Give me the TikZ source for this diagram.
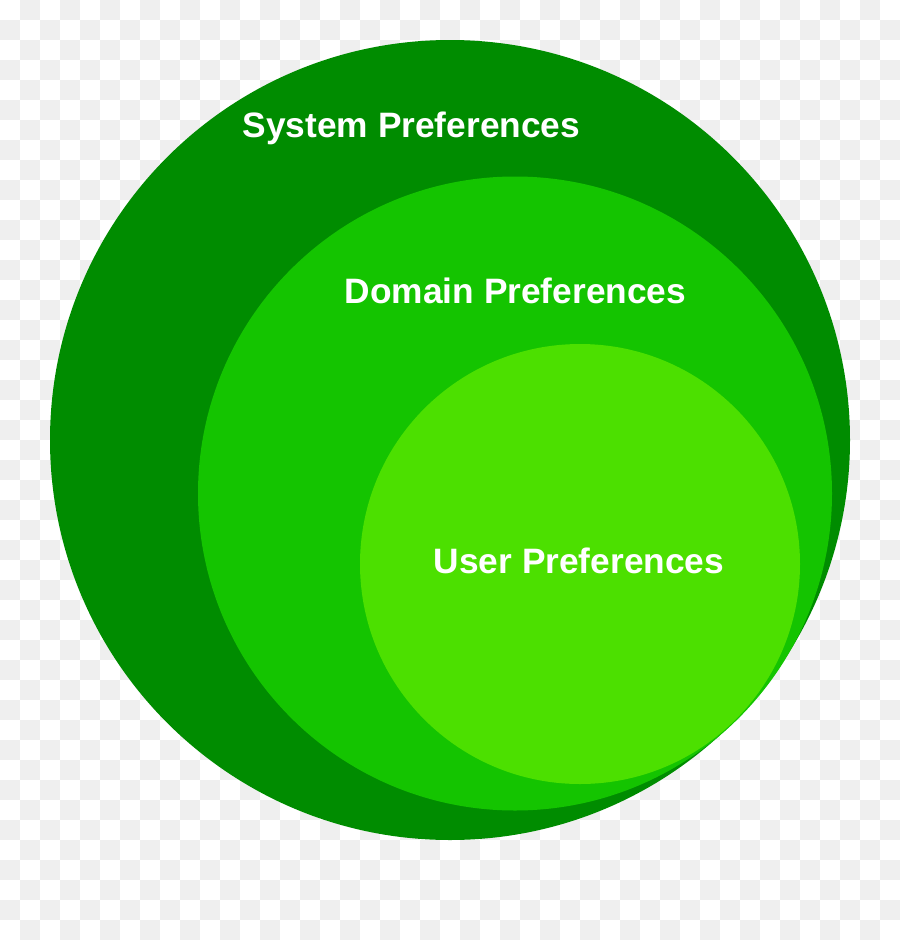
\documentclass[tikz,border=0pt]{standalone}
\usepackage{fontspec}
\setmainfont{Liberation Sans}
\definecolor{outerg}{RGB}{0,140,0}
\definecolor{midg}{RGB}{20,196,0}
\definecolor{innerg}{RGB}{76,224,0}
\definecolor{checker}{RGB}{239,239,239}
\begin{document}
\begin{tikzpicture}[x=1pt,y=-1pt,
  lbl/.style={text=white,font=\bfseries\fontsize{35.3}{42}\selectfont,anchor=base,inner sep=0pt},
  ring/.style={circle,inner sep=0pt,draw=none}]
\useasboundingbox (0,0) rectangle (900,940);
\fill[white] (0,0) rectangle (900,940);
\foreach \i in {0,...,44}{
  \foreach \j in {0,...,46}{
    \pgfmathtruncatemacro{\myparity}{mod(\i+\j,2)}
    \ifnum\myparity=1 \fill[checker] (\i*20,\j*20) rectangle ++(20,20);\fi
  }
}
\node[ring,fill=outerg,minimum size=800pt] (sys) at (450,440) {};
\node[ring,fill=midg,minimum size=634pt] (dom) at (515,493.5) {};
\node[ring,fill=innerg,minimum size=440pt] (usr) at (580,564) {};
\node[lbl] (syslbl) at (411.5,137) {System Preferences};
\node[lbl] (domlbl) at (515.5,303) {Domain Preferences};
\node[lbl] (usrlbl) at (579,573) {User Preferences};
\end{tikzpicture}
\end{document}
